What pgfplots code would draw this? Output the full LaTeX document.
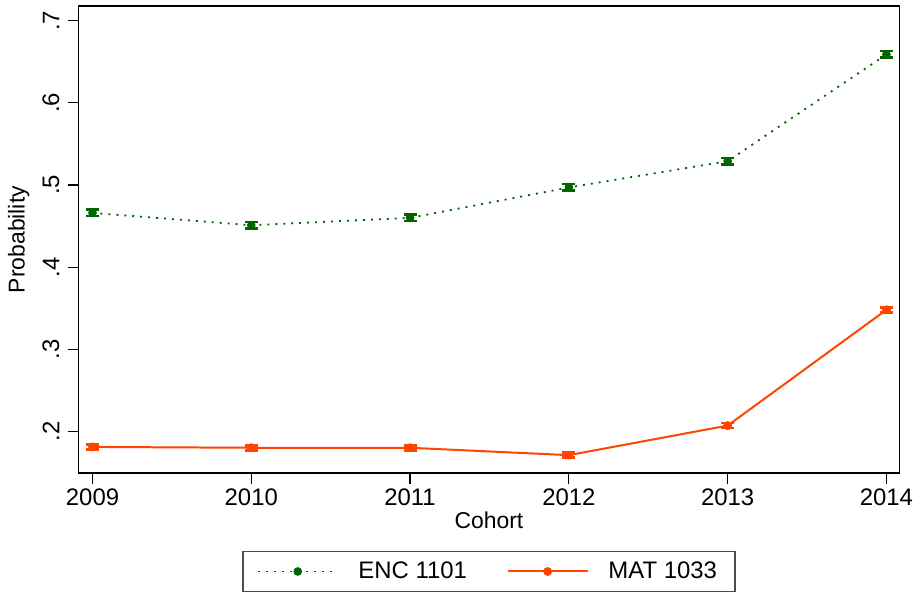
\documentclass[border=0pt]{standalone}
\usepackage{pgfplots}
\pgfplotsset{compat=1.18}
\usepackage{fontspec}
\setmainfont{Liberation Sans}
\definecolor{encgreen}{RGB}{0,100,0}
\definecolor{matorange}{RGB}{255,69,0}
\begin{document}
\fontsize{12pt}{14pt}\selectfont
\begin{tikzpicture}
\begin{axis}[
  name=ax,
  scale only axis,
  width=412pt, height=234.5pt,
  xmin=2008.912, xmax=2014.082,
  ymin=0.149, ymax=0.718,
  xtick={2009,2010,2011,2012,2013,2014},
  xticklabels={2009,2010,2011,2012,2013,2014},
  ytick={0.2,0.3,0.4,0.5,0.6,0.7},
  yticklabels={.2,.3,.4,.5,.6,.7},
  yticklabel style={rotate=90, anchor=south, font=\fontsize{12pt}{14pt}\selectfont},
  xticklabel style={font=\fontsize{12pt}{14pt}\selectfont, inner sep=2pt},
  tick align=outside,
  major tick length=5.5pt,
  xtick pos=bottom, ytick pos=left,
  tick style={black, line width=0.6pt},
  axis line style={line width=0.8pt},
  xlabel={Cohort}, ylabel={Probability},
  xlabel style={at={(axis description cs:0.5,0)}, anchor=north, yshift=-19pt, font=\fontsize{11.5pt}{13pt}\selectfont, inner sep=0pt},
  ylabel style={at={(axis description cs:0,0.5)}, anchor=south, yshift=20.5pt, font=\fontsize{11.5pt}{13pt}\selectfont},
  legend style={at={(0.5,-0.166)}, anchor=north, draw=black!70, line width=0.6pt,
    legend columns=2, font=\fontsize{12pt}{14pt}\selectfont,
    /tikz/every odd column/.append style={column sep=8pt},
    /tikz/every even column/.append style={column sep=18pt},
    inner xsep=7pt, inner ysep=3pt},
  legend image code/.code={\draw[mark repeat=2, mark phase=2, #1] plot coordinates {(0pt,0pt) (20pt,0pt) (40pt,0pt)};},
  legend cell align=left,
  clip=false,
]
\addplot[encgreen, line width=0.9pt, dash pattern=on 1pt off 3pt,
  mark=*, mark size=1.7pt, mark options={solid},
  error bars/.cd, y dir=both, y explicit,
  error bar style={solid, line width=2.2pt},
  error mark options={rotate=90, mark size=3.3pt, line width=1.3pt}]
  coordinates {
  (2009,0.466) +- (0,0.004)
  (2010,0.451) +- (0,0.004)
  (2011,0.460) +- (0,0.004)
  (2012,0.497) +- (0,0.004)
  (2013,0.529) +- (0,0.004)
  (2014,0.659) +- (0,0.004)
  };
\addlegendentry{ENC 1101}
\addplot[matorange, line width=1pt,
  mark=*, mark size=1.7pt,
  error bars/.cd, y dir=both, y explicit,
  error bar style={line width=2.2pt},
  error mark options={rotate=90, mark size=3.3pt, line width=1.3pt}]
  coordinates {
  (2009,0.181) +- (0,0.003)
  (2010,0.180) +- (0,0.003)
  (2011,0.180) +- (0,0.003)
  (2012,0.171) +- (0,0.003)
  (2013,0.207) +- (0,0.003)
  (2014,0.348) +- (0,0.003)
  };
\addlegendentry{MAT 1033}
\path (rel axis cs:0,0) ++(-38.5pt,-60.5pt) (rel axis cs:1,1) ++(8pt,3pt);
\end{axis}
\end{tikzpicture}
\end{document}
